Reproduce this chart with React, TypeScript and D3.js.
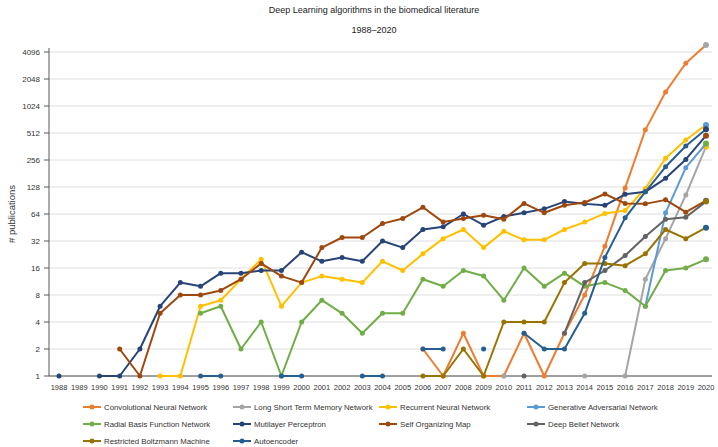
import React from "react";
import * as d3 from "d3";

const _ = null;
const years = [1988,1989,1990,1991,1992,1993,1994,1995,1996,1997,1998,1999,2000,2001,2002,2003,2004,2005,2006,2007,2008,2009,2010,2011,2012,2013,2014,2015,2016,2017,2018,2019,2020];
const yTicks = [1,2,4,8,16,32,64,128,256,512,1024,2048,4096];

const cnn = [_,_,_,_,_,_,_,_,_,_,_,_,_,_,_,_,_,_,2,1,3,1,1,3,1,3,8,28,125,555,1470,3070,4900];
const lstm = [_,_,_,_,_,_,_,_,_,_,_,_,_,_,_,_,_,_,_,_,_,_,1,_,_,_,1,_,1,12,34,104,360];
const rnn = [_,_,_,_,_,1,1,6,7,12,20,6,11,13,12,11,19,15,23,34,43,27,41,33,33,43,52,65,70,123,267,428,630];
const gan = [_,_,_,_,_,_,_,_,_,_,_,_,_,_,_,_,_,_,_,_,_,_,_,_,_,_,_,_,_,6,66,210,390];
const rbf = [_,_,_,_,_,_,_,5,6,2,4,1,4,7,5,3,5,5,12,10,15,13,7,16,10,14,10,11,9,6,15,16,20];
const mlp = [1,_,1,1,2,6,11,10,14,14,15,15,24,19,21,19,32,27,43,46,64,48,60,66,73,88,83,80,106,113,160,260,478];
const som = [_,_,_,2,1,5,8,8,9,12,18,13,11,27,35,35,50,57,76,52,57,62,56,84,66,80,86,107,84,83,92,67,90];
const dbn = [_,_,_,_,_,_,_,_,_,_,_,_,_,_,_,_,_,_,_,_,_,_,_,1,_,3,11,15,22,36,56,59,88];
const rbm = [_,_,_,_,_,_,_,_,_,_,_,_,_,_,_,_,_,_,1,1,2,1,4,4,4,11,18,18,17,23,43,34,45];
const ae = [_,_,_,_,_,_,_,1,1,_,_,1,1,_,_,1,1,_,2,2,_,2,_,3,2,2,5,21,58,113,215,367,563];

const series = [
  { name: "Convolutional Neural Network", values: cnn, color: "#ED7D31", end: "#A5A5A5" },
  { name: "Long Short Term Memory Network", values: lstm, color: "#A5A5A5", end: "#FFC000" },
  { name: "Recurrent Neural Network", values: rnn, color: "#FFC000", end: "#5B9BD5" },
  { name: "Generative Adversarial Network", values: gan, color: "#5B9BD5", end: "#70AD47" },
  { name: "Radial Basis Function Network", values: rbf, color: "#70AD47", end: "#70AD47" },
  { name: "Mutilayer Perceptron", values: mlp, color: "#264478", end: "#9E480E" },
  { name: "Self Organizing Map", values: som, color: "#9E480E", end: "#636363" },
  { name: "Deep Belief Network", values: dbn, color: "#636363", end: "#997300" },
  { name: "Restricted Boltzmann Machine", values: rbm, color: "#997300", end: "#255E91" },
  { name: "Autoencoder", values: ae, color: "#255E91", end: "#264478" },
];

const W = 718, H = 447;
const left = 49, right = 712, top = 52, bottom = 376;
const font = "'Liberation Sans', Arial, sans-serif";

export default function App() {
  const x = d3.scaleLinear().domain([1988, 2020]).range([59, 706]);
  const y = d3.scaleLog().base(2).domain([1, 4096]).range([bottom, top]);
  const line = d3.line<number | null>()
    .defined((d) => d != null)
    .x((_d, i) => x(years[i]))
    .y((d) => y(d as number));

  const legendCols = [83, 233, 379, 527];
  const legendRows = [407, 424, 441];

  return (
    <svg width={W} height={H} style={{ position: "fixed", left: 0, top: 0, background: "#fff" }} fontFamily={font}>
      <rect x={0} y={0} width={W} height={H} fill="#fff" />
      <text x={374} y={13} textAnchor="middle" fontSize={9} fill="#222">Deep Learning algorithms in the biomedical literature</text>
      <text x={374} y={33} textAnchor="middle" fontSize={9} fill="#222">1988–2020</text>
      {yTicks.slice(1).map((t) => (
        <line key={"g" + t} x1={left} x2={right} y1={y(t)} y2={y(t)} stroke="#dedede" strokeWidth={1} />
      ))}
      {yTicks.map((t) => (
        <g key={"t" + t}>
          <line x1={left - 5} x2={left} y1={y(t)} y2={y(t)} stroke="#595959" />
          <text x={left - 9} y={y(t) + 3} textAnchor="end" fontSize={8} fill="#333">{t}</text>
        </g>
      ))}
      <line x1={left} x2={left} y1={top - 4} y2={bottom} stroke="#595959" />
      <line x1={left} x2={right} y1={bottom} y2={bottom} stroke="#404040" />
      {years.map((yr) => (
        <text key={yr} x={x(yr)} y={390} textAnchor="middle" fontSize={7.5} fill="#333">{yr}</text>
      ))}
      <text transform={`translate(15,${214}) rotate(-90)`} textAnchor="middle" fontSize={9.5} fill="#333"># publications</text>
      {series.map((s) => (
        <g key={s.name}>
          <path d={line(s.values) || ""} fill="none" stroke={s.color} strokeWidth={2} strokeLinejoin="round" />
          {s.values.map((v, i) =>
            v == null ? null : (
              <circle key={i} cx={x(years[i])} cy={y(v)} r={i === years.length - 1 ? 3 : 2.5}
                fill={i === years.length - 1 ? s.end : s.color} />
            )
          )}
        </g>
      ))}
      {series.map((s, i) => {
        const lx = legendCols[i % 4];
        const ly = legendRows[Math.floor(i / 4)];
        return (
          <g key={"l" + s.name}>
            <line x1={lx} x2={lx + 18} y1={ly} y2={ly} stroke={s.color} strokeWidth={2} />
            <circle cx={lx + 9} cy={ly} r={2.5} fill={s.color} />
            <text x={lx + 21} y={ly + 3} fontSize={7.8} fill="#333">{s.name}</text>
          </g>
        );
      })}
    </svg>
  );
}
